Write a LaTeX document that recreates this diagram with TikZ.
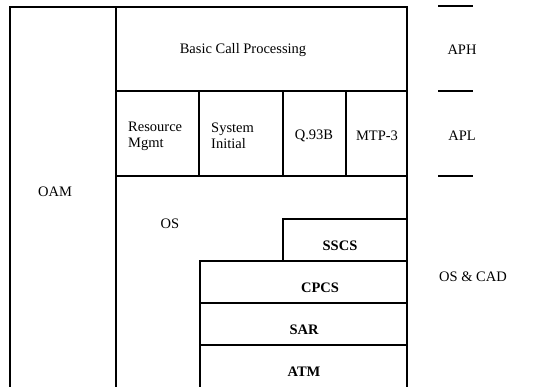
\documentclass[tikz,border=0pt]{standalone}
\usepackage{fontspec}
\setmainfont{Liberation Serif}
\usetikzlibrary{positioning}

\begin{document}
\begin{tikzpicture}[
    x=1pt, y=-1pt,
    font=\fontsize{14.5}{16}\selectfont,
    frame/.style={
        draw=black, line width=2.8pt
    },
    inner/.style={
        draw=black, line width=2pt
    },
    tick/.style={
        draw=black, line width=1.5pt
    },
    blabel/.style={
        text=black, inner sep=0pt
    },
    slabel/.style={
        text=black, inner sep=0pt,
        font=\fontsize{14.5}{16}\selectfont\bfseries
    },
    tlabel/.style={
        text=black, inner sep=0pt, align=left
    }
]
\useasboundingbox (0,0) rectangle (534,387);

% outer frame, open at the bottom
\draw[frame] (10,387) -- (10,7) -- (407,7) -- (407,387);
\draw[inner] (116,7) -- (116,387);

% APH / APL rows
\draw[inner] (116,91) -- (407,91);
\draw[inner] (116,176) -- (407,176);
\draw[inner] (199,91) -- (199,176);
\draw[inner] (283,91) -- (283,176);
\draw[inner] (346,91) -- (346,176);

% stack below the OS
\draw[frame] (200,387) -- (200,261) -- (283,261) -- (283,219) -- (407,219);
\draw[inner] (283,261) -- (407,261);
\draw[inner] (200,303) -- (407,303);
\draw[inner] (200,345) -- (407,345);

% layer ticks on the right
\draw[tick] (438,6) -- (473,6);
\draw[tick] (438,91) -- (473,91);
\draw[tick] (438,176) -- (473,176);

\node[blabel] (bcp) at (243,50) {Basic Call Processing};
\node[tlabel, anchor=west] (rmgmt) at (128,136) {Resource\\Mgmt};
\node[tlabel, anchor=west] (sysinit) at (211,136) {System\\Initial};
\node[blabel] (q93b) at (314,136) {Q.93B};
\node[blabel] (mtp) at (377,136) {MTP-3};
\node[blabel] (oam) at (55,192) {OAM};
\node[blabel] (os) at (170,224) {OS};
\node[slabel] (sscs) at (340,246) {SSCS};
\node[slabel] (cpcs) at (320,288) {CPCS};
\node[slabel] (sar) at (304,330) {SAR};
\node[slabel] (atm) at (304,372) {ATM};

\node[blabel] (aph) at (462,50) {APH};
\node[blabel] (apl) at (462,136) {APL};
\node[blabel] (oscad) at (473,277) {OS \& CAD};

\end{tikzpicture}
\end{document}
